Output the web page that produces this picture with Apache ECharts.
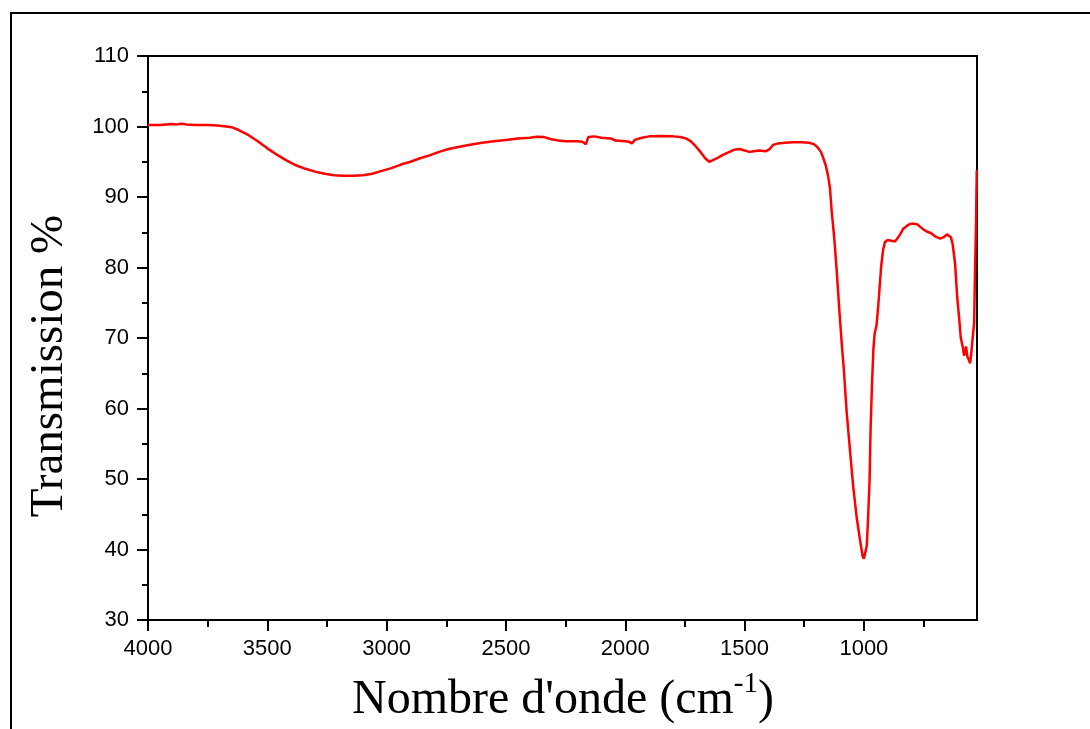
<!DOCTYPE html>
<html><head><meta charset="utf-8">
<script src="https://cdn.jsdelivr.net/npm/echarts@6/dist/echarts.min.js"></script>
<style>html,body{margin:0;padding:0;background:#fff}#c{width:1090px;height:729px}</style>
</head><body><div id="c"></div>
<script>
const wavenumber = [4000,3950,3900,3880,3860,3840,3800,3750,3710,3680,3650,3620,3580,3540,3500,3460,3420,3380,3340,3300,3260,3220,3180,3140,3100,3060,3020,2980,2940,2900,2860,2820,2780,2740,2700,2650,2600,2550,2500,2450,2400,2370,2340,2310,2280,2250,2200,2180,2165,2155,2130,2100,2060,2040,2000,1985,1972,1960,1930,1900,1850,1800,1770,1745,1725,1705,1685,1665,1648,1635,1615,1595,1570,1545,1520,1500,1480,1460,1440,1410,1395,1380,1360,1330,1300,1260,1230,1210,1195,1180,1170,1160,1150,1142,1135,1125,1114,1103,1093,1084,1072,1058,1045,1030,1016,1005,1000,994,988,983,976,972,966,960,955,947,940,934,928,920,912,900,885,870,858,848,835,820,805,790,775,765,750,737,720,709,695,680,665,652,645,635,628,618,609,600,594,586,580,576,572,566,560,555,550,544,538,535,530,527];
const transmission = [100.2,100.2,100.35,100.3,100.4,100.3,100.2,100.2,100.15,100.05,99.9,99.5,98.8,97.9,96.9,96.0,95.2,94.5,94.0,93.6,93.3,93.1,93.0,93.0,93.1,93.3,93.7,94.1,94.6,95.0,95.5,95.9,96.4,96.8,97.1,97.4,97.7,97.9,98.1,98.3,98.4,98.55,98.5,98.2,98.0,97.9,97.9,97.85,97.5,98.5,98.6,98.4,98.3,98.0,97.9,97.85,97.6,98.1,98.4,98.6,98.65,98.6,98.5,98.3,97.9,97.2,96.4,95.5,95.0,95.2,95.5,95.9,96.3,96.7,96.8,96.6,96.4,96.5,96.6,96.5,96.8,97.4,97.6,97.7,97.75,97.75,97.7,97.5,97.1,96.4,95.5,94.5,93.0,91.2,88.0,84.5,79.6,74.0,69.3,65.5,59.4,54.0,49.0,44.5,41.3,39.0,38.7,38.9,40.5,44.0,50.0,57.0,63.5,68.5,70.6,71.8,74.5,77.2,80.0,82.4,83.6,83.9,83.8,83.7,84.2,84.7,85.5,85.9,86.2,86.2,86.1,85.8,85.4,85.1,84.9,84.6,84.3,84.1,84.3,84.7,84.75,84.3,83.3,80.6,75.8,72.5,70.0,68.8,67.5,67.9,68.8,67.3,66.9,66.4,67.8,70.1,72.1,78.2,86.3,93.8];
const xTickLabels = [4000,3500,3000,2500,2000,1500,1000];
const xMinorTicks = [3750,3250,2750,2250,1750,1250,750];
const xMin = 526, xMax = 4000;
const yMin = 30, yMax = 110, yStep = 10;
const xTitle = "Nombre d'onde (cm";
const xTitleSup = "-1";
const yTitle = "Transmission %";

const points = wavenumber.map((w, i) => [w, transmission[i]]);
const lineSt = { color: '#000', width: 2 };
const chart = echarts.init(document.getElementById('c'), null, { renderer: 'canvas' });
chart.setOption({
  animation: false,
  backgroundColor: '#fff',
  grid: { left: 148, top: 56, right: 113, bottom: 109, show: true, borderColor: '#000', borderWidth: 2, backgroundColor: 'transparent' },
  xAxis: [{
    type: 'value', min: xMin, max: xMax, inverse: true, position: 'bottom',
    axisLine: { show: true, lineStyle: lineSt },
    axisTick: { show: true, length: 11, lineStyle: lineSt, customValues: xTickLabels },
    axisLabel: { show: true, customValues: xTickLabels, margin: 18, color: '#000', fontFamily: 'Liberation Sans', fontSize: 22, formatter: v => String(v) },
    splitLine: { show: false }
  }, {
    type: 'value', min: xMin, max: xMax, inverse: true, position: 'bottom',
    axisLine: { show: false },
    axisTick: { show: true, length: 7, lineStyle: lineSt, customValues: xMinorTicks },
    axisLabel: { show: false },
    splitLine: { show: false }
  }],
  yAxis: {
    type: 'value', min: yMin, max: yMax, interval: yStep,
    axisLine: { show: true, lineStyle: lineSt },
    axisTick: { show: true, length: 11, lineStyle: lineSt },
    minorTick: { show: true, splitNumber: 2, length: 6, lineStyle: lineSt },
    axisLabel: { margin: 19, color: '#000', fontFamily: 'Liberation Sans', fontSize: 22, formatter: v => String(v) },
    splitLine: { show: false }
  },
  graphic: [
    { type: 'rect', silent: true, z: -10, shape: { x: 11, y: 13, width: 1200, height: 1000 }, style: { fill: 'none', stroke: '#000', lineWidth: 2 } },
    { type: 'text', silent: true, x: 50, y: 366, rotation: Math.PI / 2,
      style: { text: yTitle, fontFamily: 'Liberation Serif', fontSize: 47, fill: '#000', align: 'center', verticalAlign: 'middle' } },
    { type: 'text', silent: true, x: 563, y: 700,
      style: { text: '{a|' + xTitle + '}{s|' + xTitleSup + '}{a|)}', align: 'center', verticalAlign: 'middle',
        rich: {
          a: { fontFamily: 'Liberation Serif', fontSize: 48, fill: '#000', lineHeight: 60 },
          s: { fontFamily: 'Liberation Serif', fontSize: 29, fill: '#000', verticalAlign: 'top', lineHeight: 12 }
        } } }
  ],
  series: [{
    type: 'line', xAxisIndex: 0, data: points, showSymbol: false, symbol: 'none',
    lineStyle: { color: '#ff0000', width: 2.5 }, clip: true
  }]
});
</script></body></html>
